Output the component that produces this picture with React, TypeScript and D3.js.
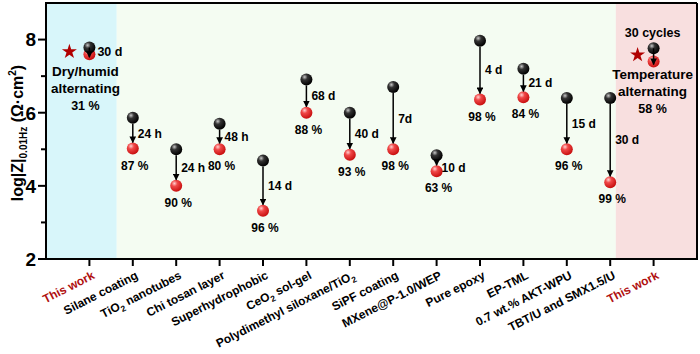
import React from "react";
import * as d3 from "d3";

const categories = [
  "This work", "Silane coating", "TiO2 nanotubes", "Chi tosan layer", "Superhydrophobic",
  "CeO2 sol-gel", "Polydimethyl siloxane/TiO2", "SiPF coating", "MXene@P-1.0/WEP",
  "Pure epoxy", "EP-TML", "0.7 wt.% AKT-WPU", "TBT/U and SMX1.5/U", "This work",
];
const initialValues = [7.78, 5.86, 5.0, 5.7, 4.69, 6.91, 6.0, 6.7, 4.84, 7.97, 7.2, 6.4, 6.4, 7.76];
const finalValues = [7.6, 5.02, 4.0, 5.0, 3.32, 6.0, 4.85, 5.0, 4.4, 6.36, 6.42, 5.0, 4.1, 7.4];
const durations = ["30 d", "24 h", "24 h", "48 h", "14 d", "68 d", "40 d", "7d", "10 d", "4 d", "21 d", "15 d", "30 d", "30 cycles"];
const retentions = ["31 %", "87 %", "90 %", "80 %", "96 %", "88 %", "93 %", "98 %", "63 %", "98 %", "84 %", "96 %", "99 %", "58 %"];
const starValues = [7.67, 7.58];
const yTicks = [2, 4, 6, 8];
const yMinor = [3, 5, 7];

const W = 700, H = 354;
const L = 46, R = 697, T = 3, B = 259;
const FONT = "Arial, 'Liberation Sans', sans-serif";

const x = d3.scaleLinear().domain([0, 15]).range([L, R]);
const y = d3.scaleLinear().domain([2, 9]).range([B, T]);

function renderLabel(s: string) {
  const m = s.match(/^(.*?)(TiO|CeO)2(.*)$/);
  if (m) {
    return (
      <>
        {m[1]}{m[2]}<tspan dy={3.5} fontSize={8.5}>2</tspan><tspan dy={-3.5}>{m[3]}</tspan>
      </>
    );
  }
  return s;
}

export default function App() {
  const star = d3.symbol().type(d3.symbolStar).size(70)() as string;
  const r = 6;
  return (
    <svg width={W} height={H} style={{ display: "block", position: "absolute", left: 0, top: 0 }} fontFamily={FONT}>
      <defs>
        <radialGradient id="gBlack" cx="35%" cy="30%" r="70%">
          <stop offset="0%" stopColor="#c8c8c8" />
          <stop offset="35%" stopColor="#333" />
          <stop offset="100%" stopColor="#000" />
        </radialGradient>
        <radialGradient id="gRed" cx="35%" cy="30%" r="70%">
          <stop offset="0%" stopColor="#ffd0d0" />
          <stop offset="35%" stopColor="#f04848" />
          <stop offset="100%" stopColor="#c81010" />
        </radialGradient>
        <marker id="arrow" viewBox="0 0 10 10" refX="9" refY="5" markerWidth="4.5" markerHeight="4.5" orient="auto" markerUnits="strokeWidth">
          <path d="M0,0 L10,5 L0,10 z" fill="#000" />
        </marker>
      </defs>
      <rect x={0} y={0} width={W} height={H} fill="#fff" />
      {/* backgrounds */}
      <rect x={x(0)} y={T} width={x(1.63) - x(0)} height={B - T} fill="#d8f6fa" />
      <rect x={x(1.63)} y={T} width={x(13.13) - x(1.63)} height={B - T} fill="#f4fcf2" />
      <rect x={x(13.13)} y={T} width={x(15) - x(13.13)} height={B - T} fill="#f8dfdf" />
      {/* frame */}
      <line x1={L} x2={R} y1={T} y2={T} stroke="#000" strokeWidth={2} />
      <line x1={R} x2={R} y1={T} y2={B} stroke="#000" strokeWidth={2} />
      <line x1={L} x2={R + 1} y1={B} y2={B} stroke="#000" strokeWidth={2} />
      <line x1={L} x2={L} y1={T - 1} y2={B + 1} stroke="#000" strokeWidth={2} />
      {/* y ticks */}
      {yTicks.map((t) => (
        <g key={"yt" + t}>
          <line x1={L - 8} x2={L} y1={y(t)} y2={y(t)} stroke="#000" strokeWidth={2} />
          <text x={L - 10} y={y(t)} dy="0.36em" textAnchor="end" fontSize={19} fontWeight="bold">{t}</text>
        </g>
      ))}
      {yMinor.map((t) => (
        <line key={"ym" + t} x1={L - 5} x2={L} y1={y(t)} y2={y(t)} stroke="#000" strokeWidth={2} />
      ))}
      {/* y label */}
      <text transform={`translate(23,${(T + B) / 2 + 2}) rotate(-90)`} textAnchor="middle" fontSize={16} fontWeight="bold">
        log|Z|<tspan fontSize={10} dy={4}>0.01Hz</tspan>
        <tspan dy={-4}> (Ω·cm</tspan><tspan fontSize={10} dy={-7}>2</tspan><tspan dy={7}>)</tspan>
      </text>
      {/* x ticks & labels */}
      {categories.map((c, i) => {
        const px = x(i + 1);
        const red = c === "This work";
        return (
          <g key={"xt" + i}>
            <line x1={px} x2={px} y1={B} y2={B + 7} stroke="#000" strokeWidth={2} />
            <text transform={`translate(${px + 6},${B + 19}) rotate(-27)`} textAnchor="end" fontSize={12} fontWeight="bold" fill={red ? "#b01010" : "#000"}>
              {renderLabel(c)}
            </text>
          </g>
        );
      })}
      {/* stars */}
      <path d={star} transform={`translate(${x(1) - 20},${y(starValues[0])})`} fill="#b00000" />
      <path d={star} transform={`translate(${x(14) - 16},${y(starValues[1])})`} fill="#b00000" />
      {/* points */}
      {categories.map((c, i) => {
        const px = x(i + 1);
        const y0 = y(initialValues[i]);
        const y1 = y(finalValues[i]);
        return (
          <g key={"p" + i}>
            <circle cx={px} cy={y1} r={r} fill="url(#gRed)" />
            <circle cx={px} cy={y0} r={r} fill="url(#gBlack)" />
            <line x1={px} x2={px} y1={y0 + (y1 - y0 < 16 ? 0 : r)} y2={y1 - (y1 - y0 < 16 ? -3 : r)} stroke="#000" strokeWidth={1.5} markerEnd="url(#arrow)" />
          </g>
        );
      })}
      {/* duration labels */}
      {categories.map((c, i) => {
        const px = x(i + 1);
        const y0 = y(initialValues[i]);
        const y1 = y(finalValues[i]);
        if (i === 0) {
          return <text key={"d" + i} x={px + 8} y={y0 + 4} dy="0.36em" fontSize={12.5} fontWeight="bold">{durations[i]}</text>;
        }
        if (i === 13) {
          return <text key={"d" + i} x={px - 1} y={y0 - 11} textAnchor="middle" fontSize={12.5} fontWeight="bold">{durations[i]}</text>;
        }
        const my = y1 - y0 < 20 ? (y0 + y1) / 2 + 4 : (y0 + y1) / 2;
        return <text key={"d" + i} x={px + 5} y={my} dy="0.36em" fontSize={12} fontWeight="bold">{durations[i]}</text>;
      })}
      {/* retention labels */}
      {categories.map((c, i) => {
        const px = x(i + 1);
        const y1 = y(finalValues[i]);
        if (i === 0 || i === 13) {
          const lines = i === 0 ? ["Dry/humid", "alternating"] : ["Temperature", "alternating"];
          const cx = i === 0 ? px - 4 : px - 1;
          const base = i === 0 ? y1 + 22 : y1 + 17;
          return (
            <text key={"r" + i} textAnchor="middle" fontSize={13.5} fontWeight="bold">
              <tspan x={cx} y={base}>{lines[0]}</tspan>
              <tspan x={cx} y={base + 17}>{lines[1]}</tspan>
              <tspan x={cx} y={base + 34} fontSize={12.5}>{retentions[i]}</tspan>
            </text>
          );
        }
        return <text key={"r" + i} x={px + 2} y={y1 + 21} textAnchor="middle" fontSize={12} fontWeight="bold">{retentions[i]}</text>;
      })}
    </svg>
  );
}
